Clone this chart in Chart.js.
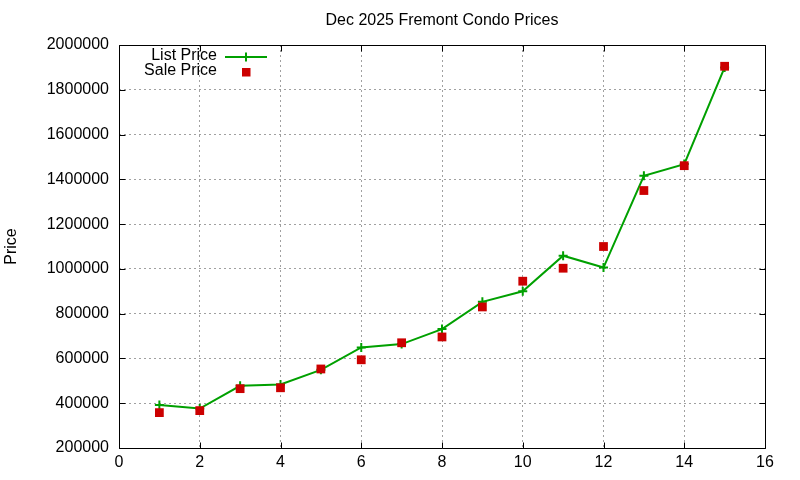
<!DOCTYPE html>
<html>
<head>
<meta charset="utf-8">
<script src="https://cdn.jsdelivr.net/npm/chart.js@4"></script>
<style>
html,body{margin:0;padding:0;background:#fff;}
#wrap{width:800px;height:480px;position:relative;}
</style>
</head>
<body>
<div id="wrap"><canvas id="c" width="800" height="480"></canvas></div>
<script>
const chartTitle = 'Dec 2025 Fremont Condo Prices';
const yAxisTitle = 'Price';
const seriesNames = ['List Price', 'Sale Price'];
const xValues = [1, 2, 3, 4, 5, 6, 7, 8, 9, 10, 11, 12, 13, 14, 15];
const listPrice = [392000, 376000, 478000, 484000, 549000, 649000, 664000, 731000, 853000, 900000, 1059000, 1006000, 1416000, 1468000, 1900000];
const salePrice = [358000, 367000, 465000, 469000, 553000, 594000, 670000, 696000, 830000, 945000, 1003000, 1100000, 1350000, 1461000, 1905000];
const xTicks = [0, 2, 4, 6, 8, 10, 12, 14, 16];
const yTicks = [200000, 400000, 600000, 800000, 1000000, 1200000, 1400000, 1600000, 1800000, 2000000];

const FONT = "'Liberation Sans', Arial, Helvetica, sans-serif";
const GREEN = '#00a000';
const RED = '#cc0000';

const framePlugin = {
  id: 'gnuframe',
  beforeDatasetsDraw(chart) {
    const {ctx, chartArea: a, scales} = chart;
    ctx.save();
    ctx.strokeStyle = '#000';
    ctx.lineWidth = 1;
    ctx.beginPath();
    const L = Math.round(a.left) + 0.5, R = Math.round(a.right) + 0.5;
    const T = Math.round(a.top) + 0.5, B = Math.round(a.bottom) + 0.5;
    ctx.rect(L, T, R - L, B - T);
    const tl = 6;
    scales.x.ticks.forEach(t => {
      const px = Math.round(scales.x.getPixelForValue(t.value)) + 0.5;
      ctx.moveTo(px, B); ctx.lineTo(px, B - tl);
      ctx.moveTo(px, T); ctx.lineTo(px, T + tl);
    });
    scales.y.ticks.forEach(t => {
      const py = Math.round(scales.y.getPixelForValue(t.value)) + 0.5;
      ctx.moveTo(L, py); ctx.lineTo(L + tl, py);
      ctx.moveTo(R, py); ctx.lineTo(R - tl, py);
    });
    ctx.stroke();
    ctx.restore();
  },
  afterDraw(chart) {
    const {ctx} = chart;
    ctx.save();
    ctx.font = '16px ' + FONT;
    ctx.fillStyle = '#000';
    ctx.textAlign = 'right';
    ctx.textBaseline = 'middle';
    ctx.fillText(seriesNames[0], 217, 56);
    ctx.fillText(seriesNames[1], 217, 71);
    ctx.strokeStyle = GREEN;
    ctx.lineWidth = 2;
    ctx.beginPath();
    ctx.moveTo(225, 57); ctx.lineTo(267, 57);
    ctx.moveTo(246, 52.5); ctx.lineTo(246, 61.5);
    ctx.stroke();
    ctx.fillStyle = RED;
    ctx.fillRect(242, 68, 8.5, 8.5);
    ctx.restore();
  }
};

new Chart(document.getElementById('c'), {
  type: 'scatter',
  data: {
    datasets: [
      {
        label: seriesNames[1],
        data: xValues.map((x, i) => ({x: x, y: salePrice[i]})),
        showLine: false,
        pointStyle: 'rect',
        pointRadius: 6.2,
        pointHoverRadius: 6.2,
        pointBackgroundColor: RED,
        pointBorderColor: RED,
        pointBorderWidth: 0,
        order: 0
      },
      {
        label: seriesNames[0],
        data: xValues.map((x, i) => ({x: x, y: listPrice[i]})),
        showLine: true,
        borderColor: GREEN,
        borderWidth: 2,
        pointStyle: 'cross',
        pointRadius: 4.5,
        pointHoverRadius: 4.5,
        pointBorderColor: GREEN,
        pointBorderWidth: 2,
        tension: 0,
        order: 1
      }
    ]
  },
  options: {
    responsive: false,
    animation: false,
    devicePixelRatio: 1,
    layout: {padding: {left: 0, right: 35, top: 0, bottom: 0}},
    plugins: {
      legend: {display: false},
      tooltip: {enabled: false},
      title: {
        display: true,
        text: chartTitle,
        fullSize: false,
        color: '#000',
        font: {family: FONT, size: 16, weight: 'normal', lineHeight: 1.125},
        padding: {top: 12, bottom: 15}
      }
    },
    scales: {
      x: {
        type: 'linear',
        min: 0, max: 16,
        afterBuildTicks: s => { s.ticks = xTicks.map(v => ({value: v})); },
        afterFit: s => { s.height = 32; },
        grid: {color: '#a0a0a0', lineWidth: 1, drawTicks: false},
        border: {display: false, dash: [2, 3]},
        ticks: {color: '#000', padding: 5, font: {family: FONT, size: 16}, maxRotation: 0, autoSkip: false}
      },
      y: {
        type: 'linear',
        min: 200000, max: 2000000,
        afterBuildTicks: s => { s.ticks = yTicks.map(v => ({value: v})); },
        afterFit: s => { s.width = 119; },
        grid: {color: '#a0a0a0', lineWidth: 1, drawTicks: false},
        border: {display: false, dash: [2, 3]},
        title: {display: true, text: yAxisTitle, color: '#000', font: {family: FONT, size: 16}, padding: {top: 2, bottom: 0}},
        ticks: {color: '#000', padding: 10, font: {family: FONT, size: 16}, autoSkip: false, callback: v => String(v)}
      }
    }
  },
  plugins: [framePlugin]
});
</script>
</body>
</html>
